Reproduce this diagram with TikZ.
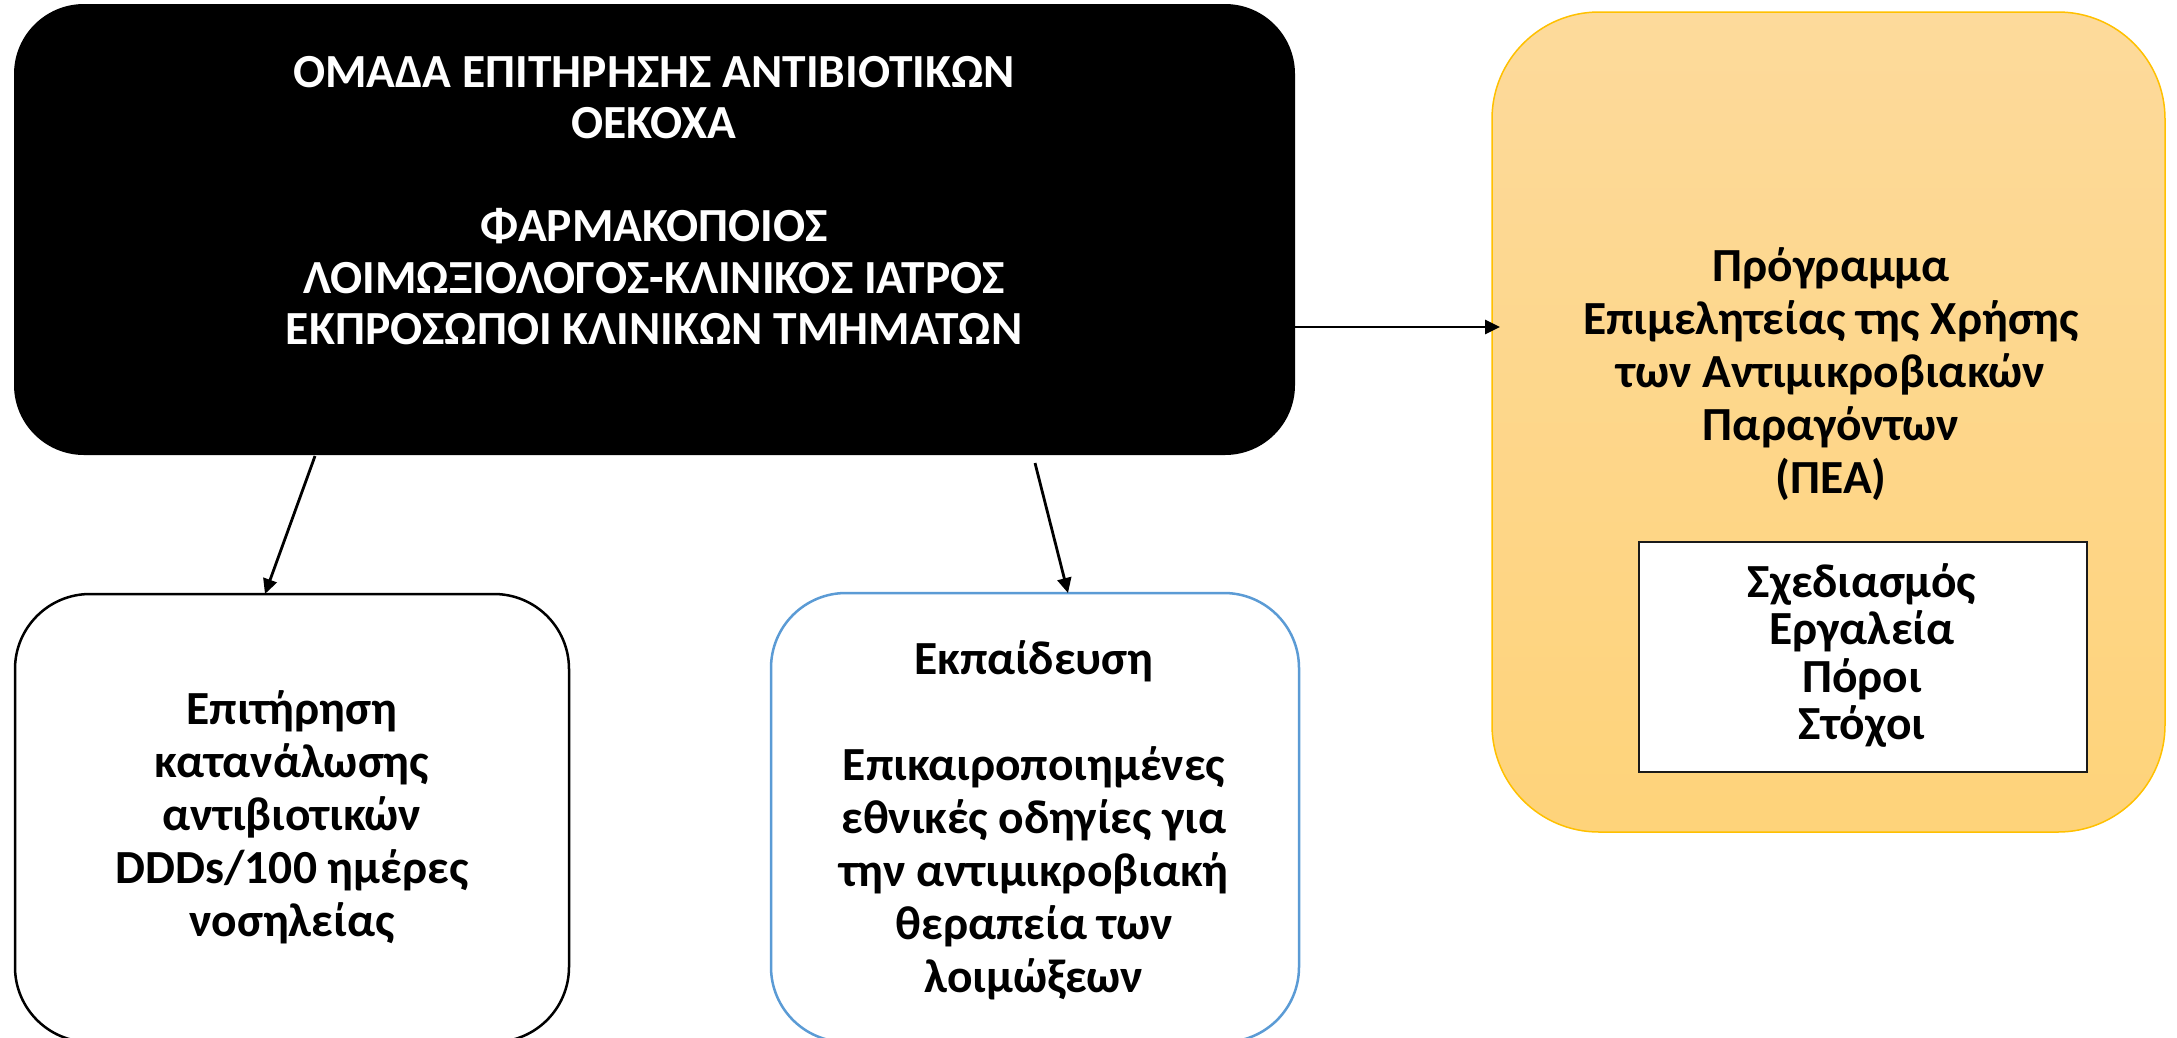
\documentclass[tikz,border=0pt]{standalone}
\usepackage{fontspec}
\setmainfont{Carlito}
\usetikzlibrary{arrows.meta,calc}
\definecolor{gold}{HTML}{FFC000}
\definecolor{ytop}{HTML}{FDDA9B}
\definecolor{ybot}{HTML}{FED37A}
\definecolor{blueline}{HTML}{5B9BD5}
\definecolor{darkline}{HTML}{1A1A1A}
\lineskiplimit=-100pt
\lineskip=0pt
\begin{document}
\begin{tikzpicture}[x=1pt,y=-1pt,
  box/.style={rectangle, inner sep=0pt, outer sep=0pt},
  txt/.style={align=center, inner sep=0pt, anchor=north},
  fa/.style={font=\fontsize{47.5}{51.5}\selectfont\bfseries},
  fb/.style={font=\fontsize{47.5}{53}\selectfont\bfseries},
  fc/.style={font=\fontsize{47.5}{49.5}\selectfont\bfseries},
  arr/.style={line width=2.8pt, -{Triangle[length=15pt,width=14pt]}}]
\useasboundingbox (0,0) rectangle (2177,1037);
\clip (0,0) rectangle (2177,1037);

% boxes
\node[box, fill=black, rounded corners=70pt, minimum width=1281pt, minimum height=451pt] (team) at (654.5,229.5) {};
\node[box, draw=black, line width=2.5pt, fill=white, rounded corners=75pt, minimum width=554pt, minimum height=448pt] (epit) at (292,818) {};
\node[box, draw=blueline, line width=2.5pt, fill=white, rounded corners=75pt, minimum width=528pt, minimum height=449pt] (edu) at (1035,817.5) {};
\node[box, draw=gold, line width=1.5pt, top color=ytop, bottom color=ybot, rounded corners=107pt, minimum width=673pt, minimum height=820pt] (pea) at (1828.5,422) {};
\node[box, draw=darkline, line width=2.5pt, fill=white, minimum width=448pt, minimum height=230pt] (tools) at (1863,657) {};

% texts
\node[txt, fa, text=white] (teamtxt) at (654,56) {ΟΜΑΔΑ ΕΠΙΤΗΡΗΣΗΣ ΑΝΤΙΒΙΟΤΙΚΩΝ\\ΟΕΚΟΧΑ\\[51.5pt]ΦΑΡΜΑΚΟΠΟΙΟΣ\\ΛΟΙΜΩΞΙΟΛΟΓΟΣ-ΚΛΙΝΙΚΟΣ ΙΑΤΡΟΣ\\ΕΚΠΡΟΣΩΠΟΙ ΚΛΙΝΙΚΩΝ ΤΜΗΜΑΤΩΝ};
\node[txt, fb] (peatxt) at (1831,247) {Πρόγραμμα\\Επιμελητείας της Χρήσης\\των Αντιμικροβιακών\\Παραγόντων\\(ΠΕΑ)};
\node[txt, fc] (toolstxt) at (1862,563) {Σχεδιασμός\\[-2pt]Εργαλεία\\[-2pt]Πόροι\\[-2pt]Στόχοι};
\node[txt, fb] (epittxt) at (292,690) {Επιτήρηση\\κατανάλωσης\\αντιβιοτικών\\DDDs/100 ημέρες\\νοσηλείας};
\node[txt, fb] (edutxt) at (1034,640) {Εκπαίδευση\\[53pt]Επικαιροποιημένες\\εθνικές οδηγίες για\\την αντιμικροβιακή\\θεραπεία των\\λοιμώξεων};

% connectors
\draw[arr] ($(team.south west)+(301,1)$) -- ($(epit.north west)+(250,0)$);
\draw[arr] ($(team.south west)+(1021,8)$) -- ($(edu.north west)+(297,0)$);
\draw[arr] ($(team.east)+(0,97.5)$) -- ($(pea.west)+(8,-95)$);
\end{tikzpicture}
\end{document}
